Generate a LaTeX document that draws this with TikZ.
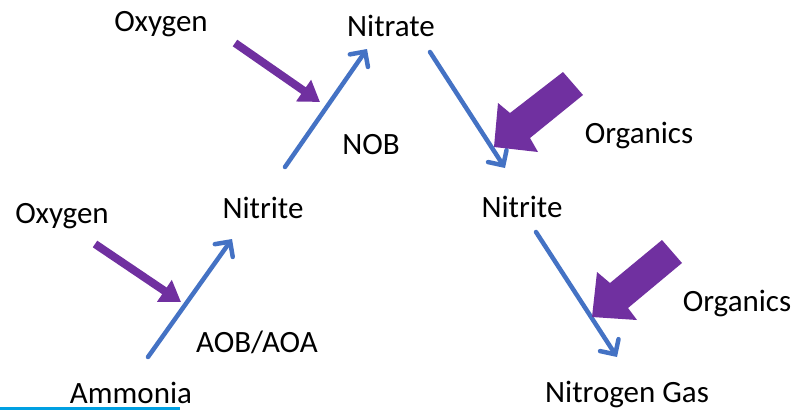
\documentclass[tikz,border=0pt]{standalone}
\usepackage{fontspec}
\setmainfont{Carlito}
\usepackage{xcolor}
\usepackage{tikz}
\usetikzlibrary{arrows.meta,calc}

\definecolor{flowblue}{RGB}{68,114,196}
\definecolor{feedpurple}{RGB}{112,48,160}
\definecolor{edgecyan}{RGB}{0,160,226}

\begin{document}
\begin{tikzpicture}[x=1pt,y=-1pt,
  lbl/.style={inner sep=0pt,anchor=base,font=\fontsize{31}{36}\selectfont},
  flow/.style={flowblue,line width=4.5pt,line cap=round,
    -{Straight Barb[length=11pt,width=22pt,line cap=round]}},
  feed/.style={feedpurple,line width=8pt,-{Triangle[length=20pt,width=25pt]}},
  bigfeed/.style={fill=feedpurple,draw=none}]
\useasboundingbox (0,0) rectangle (797,410);

% labels
\node[lbl] (oxyA) at (161,31) {Oxygen};
\node[lbl] (nitrate) at (391,36) {Nitrate};
\node[lbl] (nob) at (371,154) {NOB};
\node[lbl] (orgA) at (639,143) {Organics};
\node[lbl] (oxyB) at (62,223) {Oxygen};
\node[lbl] (nitriteA) at (263,218) {Nitrite};
\node[lbl] (nitriteB) at (522,217) {Nitrite};
\node[lbl] (orgB) at (737,311) {Organics};
\node[lbl] (aob) at (257,352) {AOB/AOA};
\node[lbl] (ammonia) at (131,403) {Ammonia};
\node[lbl,anchor=base west] (n2gas) at (545,402) {Nitrogen Gas};

% arrow ends
\coordinate (a1) at (148,357);  \coordinate (a2) at (232,239);
\coordinate (b1) at (285,167);  \coordinate (b2) at (367,49);
\coordinate (c1) at (430,52);   \coordinate (c2) at (505,168);
\coordinate (d1) at (536,232);  \coordinate (d2) at (617,357);
\coordinate (p1) at (95,244);   \coordinate (p2) at (181,302);
\coordinate (q1) at (235,43);   \coordinate (q2) at (320,102);

% nitrogen path
\draw[flow] (a1) -- (a2);
\draw[flow] (b1) -- (b2);
\draw[flow] (c1) -- (c2);
\draw[flow] (d1) -- (d2);

% oxygen feeds
\draw[feed] (p1) -- (p2);
\draw[feed] (q1) -- (q2);

% organics feeds
\fill[bigfeed] (563,72) -- (510,113) -- (498,103) -- (494,147) -- (538,152) -- (530,138) -- (583,95) -- cycle;
\fill[bigfeed] (662,240) -- (610,283) -- (597,272) -- (592,317) -- (637,320) -- (628,308) -- (682,263) -- cycle;

\draw[edgecyan,line width=3pt] (0,408) -- (180,408);
\end{tikzpicture}
\end{document}
